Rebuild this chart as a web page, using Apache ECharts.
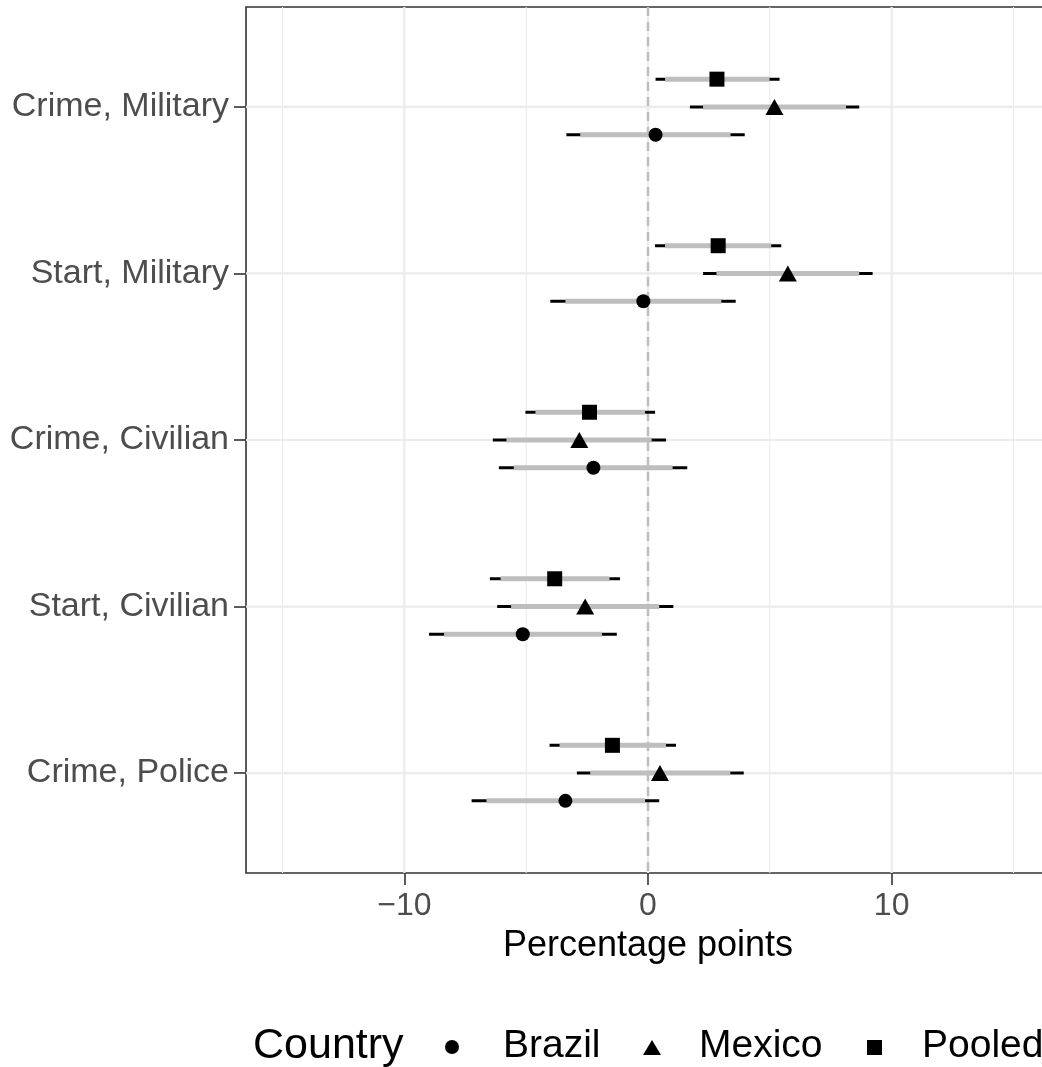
<!DOCTYPE html>
<html>
<head>
<meta charset="utf-8">
<script src="https://cdn.jsdelivr.net/npm/echarts@6/dist/echarts.min.js"></script>
<style>html,body{margin:0;padding:0;background:#fff;overflow:hidden;width:1042px;height:1067px}#c{width:1050px;height:1067px}</style>
</head>
<body>
<div id="c"></div>
<script>
// Categories from bottom (1) to top (5)
const categories = ['Crime, Police', 'Start, Civilian', 'Crime, Civilian', 'Start, Military', 'Crime, Military'];
const countries = ['Brazil', 'Mexico', 'Pooled'];

// Point estimates
const brazilEst = [-3.39, -5.14, -2.24, -0.19, 0.31];
const mexicoEst = [0.49, -2.58, -2.82, 5.74, 5.19];
const pooledEst = [-1.46, -3.83, -2.40, 2.88, 2.83];

// Outer (black, thin) intervals
const brazilLo95 = [-7.24, -8.99, -6.12, -4.01, -3.35];
const brazilHi95 = [0.46, -1.28, 1.61, 3.60, 3.97];
const mexicoLo95 = [-2.92, -6.19, -6.37, 2.26, 1.72];
const mexicoHi95 = [3.93, 1.04, 0.74, 9.22, 8.67];
const pooledLo95 = [-4.04, -6.49, -5.03, 0.29, 0.31];
const pooledHi95 = [1.15, -1.15, 0.29, 5.47, 5.40];

// Inner (grey, thick) intervals
const brazilLo90 = [-6.63, -8.37, -5.51, -3.39, -2.78];
const brazilHi90 = [-0.12, -1.89, 1.01, 3.01, 3.39];
const mexicoLo90 = [-2.37, -5.62, -5.81, 2.81, 2.26];
const mexicoHi90 = [3.38, 0.46, 0.15, 8.67, 8.13];
const pooledLo90 = [-3.63, -6.05, -4.62, 0.70, 0.70];
const pooledHi90 = [0.74, -1.58, -0.12, 5.06, 4.99];

// Axis ticks
const xTicks = [-10, 0, 10];
const xMinorGrid = [-15, -5, 5, 15];
const xMin = -16.5, xMax = 16.5;
const yMin = 0.4, yMax = 5.6;

const FONT = "'Liberation Sans', Arial, Helvetica, sans-serif";
const dodge = {Brazil: -1/6, Mexico: 0, Pooled: 1/6};
const symbols = {Brazil: 'circle', Mexico: 'triangle', Pooled: 'rect'};
const symSizes = {Brazil: 14, Mexico: [18, 16], Pooled: 15};

const est = {Brazil: brazilEst, Mexico: mexicoEst, Pooled: pooledEst};
const lo95 = {Brazil: brazilLo95, Mexico: mexicoLo95, Pooled: pooledLo95};
const hi95 = {Brazil: brazilHi95, Mexico: mexicoHi95, Pooled: pooledHi95};
const lo90 = {Brazil: brazilLo90, Mexico: mexicoLo90, Pooled: pooledLo90};
const hi90 = {Brazil: brazilHi90, Mexico: mexicoHi90, Pooled: pooledHi90};

const catPos = categories.map((c, i) => i + 1);

function intervalRender(params, api) {
  const y = api.value(0);
  const a = api.coord([api.value(1), y]);
  const b = api.coord([api.value(2), y]);
  const c = api.coord([api.value(3), y]);
  const d = api.coord([api.value(4), y]);
  return {type: 'group', children: [
    {type: 'line', shape: {x1: a[0], y1: a[1], x2: b[0], y2: b[1]}, style: {stroke: '#000000', lineWidth: 3}},
    {type: 'line', shape: {x1: c[0], y1: c[1], x2: d[0], y2: d[1]}, style: {stroke: '#BEBEBE', lineWidth: 5}}
  ]};
}

const series = [];
// vertical minor grid
series.push({type: 'custom', z: 0, silent: true, data: xMinorGrid,
  renderItem: (p, api) => { const t = api.coord([api.value(0), yMax]); const b = api.coord([api.value(0), yMin]);
    return {type: 'line', shape: {x1: t[0], y1: t[1], x2: b[0], y2: b[1]}, style: {stroke: '#EBEBEB', lineWidth: 1.1}}; }});
// vertical major grid
series.push({type: 'custom', z: 0, silent: true, data: xTicks,
  renderItem: (p, api) => { const t = api.coord([api.value(0), yMax]); const b = api.coord([api.value(0), yMin]);
    return {type: 'line', shape: {x1: t[0], y1: t[1], x2: b[0], y2: b[1]}, style: {stroke: '#EBEBEB', lineWidth: 2.2}}; }});
// horizontal major grid
series.push({type: 'custom', z: 0, silent: true, data: catPos.map(v => [v]),
  encode: {y: 0},
  renderItem: (p, api) => { const l = api.coord([xMin, api.value(0)]); const r = api.coord([xMax, api.value(0)]);
    return {type: 'line', shape: {x1: l[0], y1: l[1], x2: r[0], y2: r[1]}, style: {stroke: '#EBEBEB', lineWidth: 2.2}}; }});
// zero dashed line
series.push({type: 'custom', z: 1, silent: true, data: [0],
  renderItem: (p, api) => { const t = api.coord([api.value(0), yMax]); const b = api.coord([api.value(0), yMin]);
    return {type: 'line', shape: {x1: t[0], y1: t[1], x2: b[0], y2: b[1]}, style: {stroke: '#BEBEBE', lineWidth: 2.5, lineDash: [9, 6]}}; }});

countries.forEach(ct => {
  series.push({
    type: 'custom', name: ct + ' CI', z: 2, silent: true,
    encode: {x: [1, 2, 3, 4], y: 0},
    data: catPos.map((p, i) => [p + dodge[ct], lo95[ct][i], hi95[ct][i], lo90[ct][i], hi90[ct][i]]),
    renderItem: intervalRender
  });
  series.push({
    type: 'scatter', name: ct, z: 3, silent: true,
    symbol: symbols[ct], symbolSize: symSizes[ct],
    itemStyle: {color: '#000000', opacity: 1},
    data: catPos.map((p, i) => [est[ct][i], p + dodge[ct]])
  });
});

const chart = echarts.init(document.getElementById('c'), null, {renderer: 'canvas'});
chart.setOption({
  animation: false,
  backgroundColor: '#ffffff',
  grid: {left: 246, right: 0, top: 7, bottom: 194, show: true, borderColor: '#333333', borderWidth: 1.6, backgroundColor: 'transparent', containLabel: false},
  xAxis: {
    type: 'value', min: xMin, max: xMax,
    axisLine: {show: false, onZero: false},
    splitLine: {show: false},
    axisTick: {show: true, customValues: xTicks, length: 12, lineStyle: {color: '#333333', width: 1.6}},
    axisLabel: {customValues: xTicks, color: '#4D4D4D', fontSize: 32, fontFamily: FONT, margin: 17,
      formatter: v => String(v).replace('-', '\u2212')}
  },
  yAxis: {
    type: 'value', min: yMin, max: yMax,
    axisLine: {show: false, onZero: false},
    splitLine: {show: false},
    axisTick: {show: true, customValues: catPos, length: 12, lineStyle: {color: '#333333', width: 1.6}},
    axisLabel: {customValues: catPos, color: '#4D4D4D', fontSize: 34, fontFamily: FONT, margin: 17,
      formatter: v => categories[Math.round(v) - 1] || ''}
  },
  graphic: [
    {type: 'text', x: 648, y: 946, style: {text: 'Percentage points', fontSize: 36, fontFamily: FONT, fill: '#000', align: 'center', verticalAlign: 'middle'}},
    {type: 'text', x: 253, y: 1046, style: {text: 'Country', fontSize: 43, fontFamily: FONT, fill: '#000', align: 'left', verticalAlign: 'middle'}},
    {type: 'circle', shape: {cx: 452, cy: 1047, r: 7}, style: {fill: '#000'}},
    {type: 'text', x: 503, y: 1046, style: {text: countries[0], fontSize: 39, fontFamily: FONT, fill: '#000', align: 'left', verticalAlign: 'middle'}},
    {type: 'polygon', shape: {points: [[652, 1040], [661, 1055], [643, 1055]]}, style: {fill: '#000'}},
    {type: 'text', x: 699, y: 1046, style: {text: countries[1], fontSize: 39, fontFamily: FONT, fill: '#000', align: 'left', verticalAlign: 'middle'}},
    {type: 'rect', shape: {x: 867, y: 1040, width: 15, height: 15}, style: {fill: '#000'}},
    {type: 'text', x: 922, y: 1046, style: {text: countries[2], fontSize: 39, fontFamily: FONT, fill: '#000', align: 'left', verticalAlign: 'middle'}}
  ],
  series: series
});
</script>
</body>
</html>
